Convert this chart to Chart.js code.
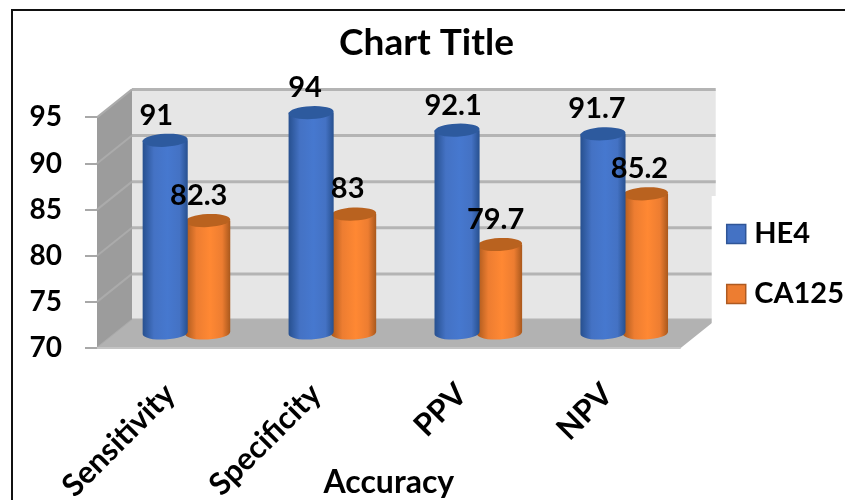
<!DOCTYPE html>
<html>
<head>
<meta charset="utf-8">
<title>Chart Title</title>
<script src="https://cdn.jsdelivr.net/npm/chart.js@4"></script>
<style>
  html, body { margin: 0; background: #fff; overflow: hidden; }
  #wrap { position: relative; width: 845px; height: 500px; }
  #frame { position: absolute; left: 11px; top: 9px; width: 840px; height: 500px; border: 2px solid #111; }
  canvas { position: absolute; left: 0; top: 0; }
</style>
</head>
<body>
<div id="wrap">
  <div id="frame"></div>
  <canvas id="myChart" width="845" height="500"></canvas>
</div>
<script>
const categories = ["Sensitivity", "Specificity", "PPV", "NPV"];
const he4 = [91, 94, 92.1, 91.7];
const ca125 = [82.3, 83, 79.7, 85.2];
const yMin = 70;
const yMax = 95;
const yStep = 5;

const FONT = "Lato, Carlito, sans-serif";

// depth of the 3d box, and how far into it the cylinders stand
const wallDepth = { x: 35, y: 28 };
const barDepth = { x: 16.5, y: 14 };
const labelShift = [-9, -6, -4, -6];

const blue = { fill: "#4472c4", line: "#2f5597", top: "#2d5a9e", edge: "#27508f", mid: "#4678cf" };
const orange = { fill: "#ed7d31", line: "#ae5a21", top: "#b9621f", edge: "#a9581c", mid: "#ff8833" };

// bars are drawn as cylinders instead of flat rectangles
Chart.BarElement.prototype.draw = function (ctx) {
  const { x, y, base, width } = this.getProps(["x", "y", "base", "width"]);
  const c = this.options.backgroundColor === blue.fill ? blue : orange;
  const cx = x + barDepth.x;
  const top = y - barDepth.y;
  const bottom = base - barDepth.y;
  const rx = width / 2;
  const ry = 6.5;
  const tilt = -0.05;

  const g = ctx.createLinearGradient(cx - rx, 0, cx + rx, 0);
  g.addColorStop(0, c.edge);
  g.addColorStop(0.25, c.fill);
  g.addColorStop(0.55, c.mid);
  g.addColorStop(0.82, c.fill);
  g.addColorStop(1, c.edge);

  ctx.save();
  ctx.fillStyle = g;
  ctx.beginPath();
  ctx.moveTo(cx - rx, top);
  ctx.lineTo(cx - rx, bottom);
  ctx.ellipse(cx, bottom, rx, ry, tilt, Math.PI, 0, true);
  ctx.lineTo(cx + rx, top);
  ctx.closePath();
  ctx.fill();

  ctx.fillStyle = c.top;
  ctx.beginPath();
  ctx.ellipse(cx, top, rx, ry, tilt, 0, Math.PI * 2);
  ctx.fill();
  ctx.restore();
};

// walls, floor and gridlines of the box behind the bars
const boxPlugin = {
  id: "box",
  afterLayout(chart) {
    // nudge the legend and title off their default slots
    const legend = chart.legend;
    legend.left += 21;
    legend.right += 21;
    legend.top += 14;
    legend.bottom += 14;
    chart.titleBlock.left += 20;
  },
  beforeDraw(chart) {
    const { ctx, chartArea: a, scales } = chart;
    const y = scales.y;
    const dx = wallDepth.x;
    const dy = wallDepth.y;
    const low = y.getPixelForValue(yMin);
    const high = y.getPixelForValue(yMax);

    ctx.save();
    // back wall
    ctx.fillStyle = "#e6e6e6";
    ctx.fillRect(a.left + dx, high - dy, a.right - a.left, low - high);

    // side wall
    ctx.fillStyle = "#9c9c9c";
    ctx.beginPath();
    ctx.moveTo(a.left, high);
    ctx.lineTo(a.left + dx, high - dy);
    ctx.lineTo(a.left + dx, low - dy);
    ctx.lineTo(a.left, low);
    ctx.closePath();
    ctx.fill();

    // gridlines run along the back wall and down the side wall
    y.ticks.forEach((t) => {
      const py = y.getPixelForValue(t.value);
      ctx.lineWidth = 3;
      ctx.strokeStyle = "#b4b4b4";
      ctx.beginPath();
      ctx.moveTo(a.left + dx, py - dy);
      ctx.lineTo(a.right + dx, py - dy);
      ctx.stroke();
      ctx.lineWidth = 2;
      ctx.strokeStyle = "#ababab";
      ctx.beginPath();
      ctx.moveTo(a.left, py);
      ctx.lineTo(a.left + dx, py - dy);
      ctx.stroke();
    });

    // floor
    ctx.fillStyle = "#b2b2b2";
    ctx.beginPath();
    ctx.moveTo(a.left, low);
    ctx.lineTo(a.left + dx, low - dy);
    ctx.lineTo(a.right + dx, low - dy);
    ctx.lineTo(a.right, low);
    ctx.closePath();
    ctx.fill();
    ctx.lineWidth = 2;
    ctx.strokeStyle = "#c4c4c4";
    ctx.beginPath();
    ctx.moveTo(a.left, low);
    ctx.lineTo(a.right, low);
    ctx.stroke();

    // panel behind the legend cuts into the wall's right edge
    ctx.fillStyle = "#fff";
    ctx.fillRect(a.right + 31, 196, 40, 153);
    ctx.restore();
  },
  afterDatasetsDraw(chart) {
    const { ctx } = chart;
    ctx.save();
    ctx.font = "bold 29px " + FONT;
    ctx.fillStyle = "#000";
    ctx.textAlign = "center";
    ctx.textBaseline = "middle";
    chart.data.datasets.forEach((ds, d) => {
      chart.getDatasetMeta(d).data.forEach((bar, i) => {
        const px = bar.x + barDepth.x + labelShift[i];
        const py = bar.y - barDepth.y - 25;
        ctx.fillText(String(ds.data[i]), px, py);
      });
    });
    ctx.restore();
  }
};

new Chart(document.getElementById("myChart"), {
  type: "bar",
  data: {
    labels: categories,
    datasets: [
      { label: "HE4", data: he4, base: yMin, backgroundColor: blue.fill, borderColor: blue.line, borderWidth: 1.5, clip: false },
      { label: "CA125", data: ca125, base: yMin, backgroundColor: orange.fill, borderColor: orange.line, borderWidth: 1.5, clip: false }
    ]
  },
  options: {
    responsive: false,
    animation: false,
    datasets: { bar: { categoryPercentage: 0.583, barPercentage: 1.06 } },
    layout: { padding: { left: 0, right: 12, top: 0, bottom: 0 } },
    plugins: {
      tooltip: { enabled: false },
      title: {
        display: true,
        text: "Chart Title",
        color: "#000",
        font: { family: FONT, size: 37, weight: "bold" },
        padding: { top: 21, bottom: 52 }
      },
      legend: {
        position: "right",
        maxWidth: 165,
        labels: {
          color: "#000",
          font: { family: FONT, size: 29, weight: "bold" },
          usePointStyle: true,
          pointStyle: "rect",
          boxWidth: 7,
          boxHeight: 19,
          padding: 31
        }
      }
    },
    scales: {
      x: {
        afterFit(s) { s.height = 152; },
        grid: { display: false },
        border: { display: false },
        ticks: {
          color: "#000",
          font: { family: FONT, size: 31, weight: "bold" },
          minRotation: 45,
          maxRotation: 45,
          autoSkip: false,
          padding: 20
        },
        title: {
          display: true,
          text: "Accuracy",
          color: "#000",
          font: { family: FONT, size: 32, weight: "bold" },
          padding: { top: 0, bottom: -2 }
        }
      },
      y: {
        min: yMin,
        max: yMax,
        afterFit(s) { s.width = 97; },
        grid: { drawOnChartArea: false, drawTicks: true, tickLength: 12, color: "#a8a8a8", lineWidth: 2 },
        border: { display: false },
        ticks: {
          stepSize: yStep,
          color: "#000",
          font: { family: FONT, size: 28, weight: "bold" },
          padding: 23
        }
      }
    }
  },
  plugins: [boxPlugin]
});
</script>
</body>
</html>
